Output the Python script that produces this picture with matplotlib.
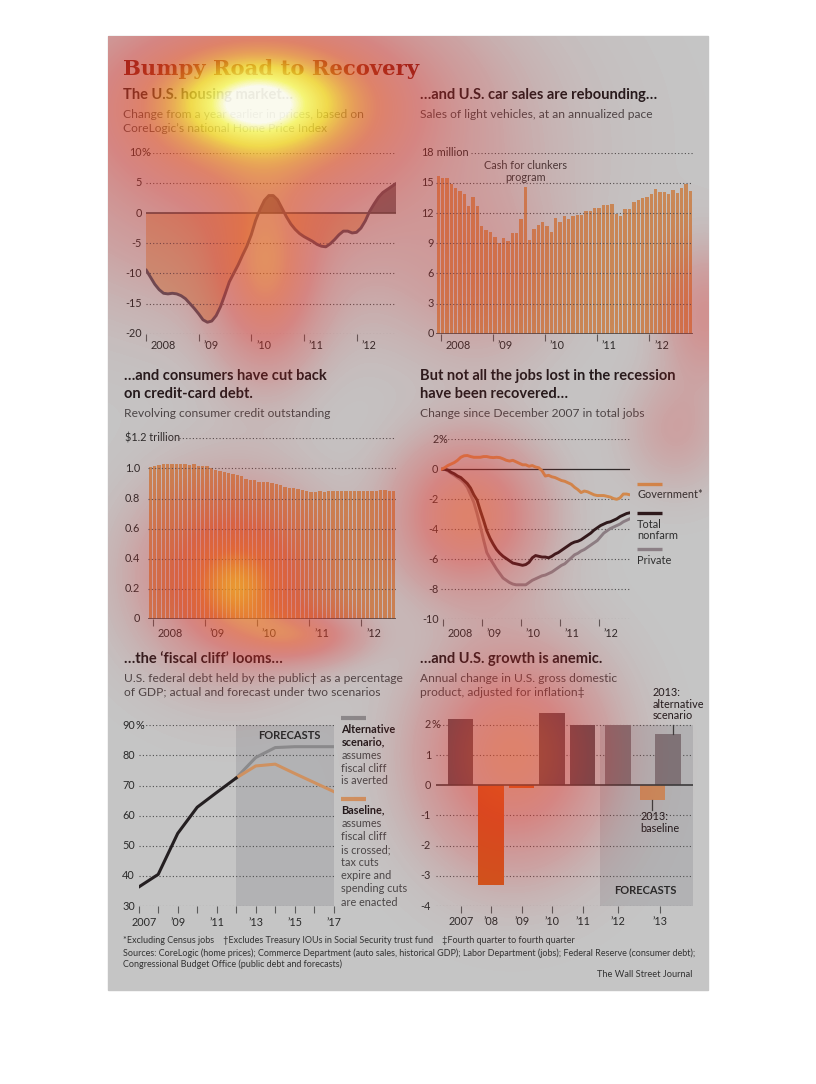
import numpy as np
import matplotlib
matplotlib.use('Agg')
import matplotlib.pyplot as plt
from matplotlib.transforms import blended_transform_factory as btf, ScaledTranslation
from matplotlib.colors import LinearSegmentedColormap
from matplotlib.patches import Rectangle
from matplotlib.lines import Line2D

plt.rcParams['font.family'] = ['Lato', 'DejaVu Sans']

# ---------------- data ----------------
# home prices, % change from a year earlier, monthly Jan 2008 - Oct 2012
housing = [-9.4, -10.6, -11.8, -12.7, -13.3, -13.4, -13.3, -13.4, -13.7, -14.2,
           -15.0, -15.8, -16.7, -17.7, -18.1, -17.9, -17.0, -15.5, -13.5, -11.4,
           -10.0, -8.6, -7.0, -5.5, -3.6, -1.2, 0.6, 2.1, 2.9, 2.9,
           2.2, 0.8, -0.6, -1.8, -2.7, -3.4, -3.9, -4.3, -4.7, -5.2,
           -5.5, -5.6, -5.1, -4.4, -3.6, -3.0, -3.0, -3.3, -3.2, -2.5,
           -1.3, 0.3, 1.5, 2.6, 3.4, 3.9, 4.4, 4.9]

# light vehicle sales, million annualized, monthly Dec 2007 - Oct 2012
car_sales = [15.7, 15.5, 15.5, 14.9, 14.5, 14.2, 13.9, 12.7, 13.6, 12.7,
             10.7, 10.3, 10.1, 9.6, 9.0, 9.5, 9.2, 10.0, 10.0, 11.4,
             14.6, 9.3, 10.4, 10.8, 11.1, 10.7, 10.1, 11.5, 11.1, 11.7,
             11.4, 11.7, 11.8, 11.8, 12.2, 12.2, 12.5, 12.5, 12.8, 12.8,
             12.9, 11.9, 11.7, 12.4, 12.4, 13.1, 13.3, 13.5, 13.6, 13.9,
             14.4, 14.1, 14.1, 13.9, 14.3, 14.0, 14.5, 14.9, 14.2]

# revolving consumer credit, $ trillion, monthly Dec 2007 - Aug 2012
credit = [1.007, 1.013, 1.022, 1.027, 1.027, 1.029, 1.029, 1.029, 1.027, 1.022,
          1.027, 1.018, 1.013, 1.013, 1.000, 0.987, 0.980, 0.973, 0.969, 0.962,
          0.956, 0.947, 0.933, 0.924, 0.920, 0.913, 0.907, 0.907, 0.902, 0.896,
          0.887, 0.878, 0.871, 0.869, 0.860, 0.858, 0.851, 0.844, 0.844, 0.849,
          0.844, 0.849, 0.849, 0.847, 0.847, 0.847, 0.847, 0.851, 0.851, 0.851,
          0.849, 0.851, 0.849, 0.856, 0.856, 0.851, 0.853]

# jobs, % change since Dec 2007, monthly Dec 2007 - Oct 2012
jobs_gov = [0.0, 0.1, 0.25, 0.35, 0.45, 0.6, 0.8, 0.9, 0.92, 0.85,
            0.8, 0.8, 0.8, 0.85, 0.85, 0.8, 0.78, 0.8, 0.78, 0.7,
            0.6, 0.55, 0.6, 0.5, 0.4, 0.3, 0.3, 0.2, 0.25, 0.15,
            0.1, -0.1, -0.45, -0.4, -0.5, -0.55, -0.65, -0.75, -0.8, -0.9,
            -1.0, -1.2, -1.35, -1.55, -1.45, -1.5, -1.6, -1.7, -1.75, -1.75,
            -1.75, -1.8, -1.85, -1.95, -2.0, -1.9, -1.65, -1.65, -1.7]
jobs_total = [0.0, 0.0, -0.05, -0.2, -0.3, -0.45, -0.55, -0.75, -0.95, -1.25,
              -1.7, -2.05, -2.75, -3.4, -4.1, -4.6, -5.0, -5.35, -5.6, -5.8,
              -5.95, -6.1, -6.25, -6.3, -6.35, -6.4, -6.35, -6.2, -5.9, -5.75,
              -5.8, -5.85, -5.85, -5.9, -5.8, -5.65, -5.55, -5.4, -5.25, -5.1,
              -4.95, -4.85, -4.8, -4.7, -4.55, -4.4, -4.25, -4.05, -3.9, -3.75,
              -3.65, -3.55, -3.5, -3.4, -3.3, -3.15, -3.05, -2.95, -2.9]
jobs_private = [0.0, 0.0, -0.1, -0.25, -0.4, -0.55, -0.7, -0.9, -1.2, -1.7,
                -2.2, -2.95, -3.8, -4.7, -5.55, -5.95, -6.3, -6.65, -6.95, -7.25,
                -7.4, -7.55, -7.65, -7.7, -7.7, -7.7, -7.7, -7.55, -7.4, -7.3,
                -7.2, -7.1, -7.05, -6.95, -6.85, -6.7, -6.55, -6.4, -6.3, -6.1,
                -5.9, -5.7, -5.6, -5.45, -5.35, -5.2, -5.05, -4.9, -4.75, -4.5,
                -4.25, -4.1, -3.95, -3.85, -3.75, -3.65, -3.5, -3.4, -3.3]

# federal debt held by the public, % of GDP
debt_years = [2007, 2008, 2009, 2010, 2011, 2012]
debt_actual = [36.3, 40.5, 54.1, 62.8, 67.7, 72.5]
fc_years = [2012, 2013, 2014, 2015, 2016, 2017]
debt_alternative = [72.5, 79.3, 82.6, 82.9, 82.9, 82.9]
debt_baseline = [72.5, 76.5, 77.1, 74.0, 71.0, 68.0]

# GDP, annual % change (Q4 to Q4)
gdp_labels = ['2007', '\u201908', '\u201909', '\u201910', '\u201911', '\u201912', '\u201913']
gdp_actual = [2.2, -3.3, -0.1, 2.4, 2.0]
gdp_2012 = 2.0
gdp_2013_baseline = -0.5
gdp_2013_alternative = 1.7

year_labels = ['2008', '\u201909', '\u201910', '\u201911', '\u201912']

# ---------------- style ----------------
BG = '#c5c5c5'
TXT = '#231b1d'
SUB = '#4a4647'
TICKC = '#2b2b2b'
GRIDC = '#505050'
ORANGE = '#c98a58'
W, H = 816, 1084

fig = plt.figure(figsize=(W / 100, H / 100), dpi=100, facecolor='white')
fig.patches.append(Rectangle((108 / W, 1 - 990 / H), 600 / W, 954 / H,
                             transform=fig.transFigure, color=BG, zorder=-1))


def add_ax(l, t, r, b):
    ax = fig.add_axes([l / W, 1 - b / H, (r - l) / W, (b - t) / H])
    ax.set_facecolor('none')
    for s in ax.spines.values():
        s.set_visible(False)
    ax.tick_params(axis='y', left=False, labelleft=False)
    ax.tick_params(axis='x', length=5, width=0.8, color='#5a5a5a', labelbottom=False)
    return ax


def ftext(x, y, s, **kw):
    kw.setdefault('color', TXT)
    return fig.text(x / W, 1 - y / H, s, **kw)


def grid(ax, vals, x0=0.0):
    for v in vals:
        ax.axhline(v, xmin=x0 if v == vals[0] else 0.0, color=GRIDC, lw=0.8,
                   ls=(0, (1, 2)), zorder=2)


def ylabels(ax, vals, texts, xr, suffix='', size=7.8):
    tr = btf(fig.transFigure, ax.transData)
    for v, t in zip(vals, texts):
        ax.text(xr / W, v, t, transform=tr, ha='right', va='center',
                fontsize=size, color=TICKC)
    if suffix:
        ax.text(xr / W, vals[0], suffix, transform=tr, ha='left', va='center',
                fontsize=size, color=TICKC)


def xlabels(ax, vals, texts, ypx, dx=5, ha='left', size=7.8):
    tr = btf(ax.transData, fig.transFigure) + ScaledTranslation(dx / 100, 0, fig.dpi_scale_trans)
    for v, t in zip(vals, texts):
        ax.text(v, 1 - ypx / H, t, transform=tr, ha=ha, va='baseline',
                fontsize=size, color=TICKC)


def title(x, y, lines, sub, sub_y):
    for i, ln in enumerate(lines):
        ftext(x, y + i * 17.7, ln, fontsize=10.5, weight='bold', va='baseline')
    for i, ln in enumerate(sub):
        ftext(x, sub_y + i * 14.2, ln, fontsize=8.65, color=SUB, va='baseline')


def fline(x1, x2, y, color, lw=2.4):
    fig.add_artist(Line2D([x1 / W, x2 / W], [1 - y / H, 1 - y / H],
                          transform=fig.transFigure, color=color, lw=lw,
                          solid_capstyle='butt'))


# ---------------- headline ----------------
ftext(123, 75, 'Bumpy Road to Recovery', family='DejaVu Serif', weight='bold',
      fontsize=15.2, color='#7a1e12', va='baseline')

# ---------------- 1: housing ----------------
title(123, 98.5, ['The U.S. housing market\u2026'],
      ['Change from a year earlier in prices, based on',
       'CoreLogic\u2019s national Home Price Index'], 118)
ax1 = add_ax(146, 152.7, 396, 333.7)
hx = np.arange(len(housing))
hv = np.array(housing)
ax1.set_xlim(0, len(housing) - 1)
ax1.set_ylim(-20, 10)
ax1.fill_between(hx, hv, 0, where=hv <= 0, interpolate=True, color='#c6a283', lw=0, zorder=1)
ax1.fill_between(hx, hv, 0, where=hv >= 0, interpolate=True, color='#6d676b', lw=0, zorder=1)
grid(ax1, [10, 5, -5, -10, -15, -20])
ax1.axhline(0, color='#4a4a4a', lw=1.2, zorder=3)
ax1.plot(hx, hv, color='#57505a', lw=2.1, zorder=4, solid_capstyle='round')
h_ticks = np.arange(0, len(housing), 12)
ax1.set_xticks(h_ticks)
xlabels(ax1, h_ticks, year_labels, 349.3)
ylabels(ax1, [10, 5, 0, -5, -10, -15, -20], ['10', '5', '0', '-5', '-10', '-15', '-20'], 141.5, '%')

# ---------------- 2: car sales ----------------
title(420, 98.8, ['\u2026and U.S. car sales are rebounding\u2026'],
      ['Sales of light vehicles, at an annualized pace'], 117.7)
ax2 = add_ax(436.2, 152.7, 692.5, 333.7)
cx = np.arange(len(car_sales))
ax2.set_xlim(-0.5, len(car_sales) - 0.5)
ax2.set_ylim(0, 18)
ax2.bar(cx, car_sales, width=0.77, color=ORANGE, lw=0, zorder=1)
grid(ax2, [18, 15, 12, 9, 6, 3], x0=0.135)
ax2.axhline(0, color='#4a4a4a', lw=1.2, zorder=3)
c_ticks = np.arange(1, len(car_sales), 12) - 0.5
ax2.set_xticks(c_ticks)
xlabels(ax2, c_ticks, year_labels, 348.7)
ylabels(ax2, [18, 15, 12, 9, 6, 3, 0], ['18', '15', '12', '9', '6', '3', '0'], 433.5, ' million')
spike = 12 + int(np.argmax(car_sales[12:24]))
ax2.text(spike, 16.15, 'Cash for clunkers\nprogram', ha='center', va='center',
         fontsize=7.8, color='#3a3a3a', linespacing=1.1, zorder=5)

# ---------------- 3: credit ----------------
title(124, 380, ['\u2026and consumers have cut back', 'on credit-card debt.'],
      ['Revolving consumer credit outstanding'], 417)
ax3 = add_ax(148.2, 438.3, 395.9, 619)
kx = np.arange(len(credit))
ax3.set_xlim(-0.5, len(credit) - 0.5)
ax3.set_ylim(0, 1.2)
ax3.bar(kx, credit, width=0.77, color=ORANGE, lw=0, zorder=1)
grid(ax3, [1.2, 1.0, 0.8, 0.6, 0.4, 0.2], x0=0.125)
ax3.axhline(0, color='#4a4a4a', lw=1.2, zorder=3)
k_ticks = np.arange(1, len(credit), 12) - 0.5
ax3.set_xticks(k_ticks)
xlabels(ax3, k_ticks, year_labels, 637)
ylabels(ax3, [1.0, 0.8, 0.6, 0.4, 0.2, 0], ['1.0', '0.8', '0.6', '0.4', '0.2', '0'], 140)
ax3.text(125 / W, 1.2, '$1.2 trillion', transform=btf(fig.transFigure, ax3.transData),
         ha='left', va='center', fontsize=7.8, color=TICKC)

# ---------------- 4: jobs ----------------
title(420, 380, ['But not all the jobs lost in the recession', 'have been recovered\u2026'],
      ['Change since December 2007 in total jobs'], 417)
ax4 = add_ax(441.3, 439.3, 629.8, 619.3)
jx = np.arange(len(jobs_total))
ax4.set_xlim(0, len(jobs_total) - 1)
ax4.set_ylim(-10, 2)
grid(ax4, [2, -2, -4, -6, -8, -10])
ax4.axhline(0, xmin=0.03, color='#2a2a2a', lw=0.9, zorder=2)
ax4.plot(jx, jobs_private, color='#8b7f85', lw=2.1, zorder=3)
ax4.plot(jx, jobs_total, color='#2c191c', lw=2.1, zorder=4)
ax4.plot(jx, jobs_gov, color='#d28b4d', lw=2.1, zorder=5)
j_ticks = np.arange(1, len(jobs_total), 12) - 0.5
ax4.set_xticks(j_ticks)
xlabels(ax4, j_ticks, year_labels, 636.7)
ylabels(ax4, [2, 0, -2, -4, -6, -8, -10], ['2', '0', '-2', '-4', '-6', '-8', '-10'], 438.5, '%')
fline(637.3, 662, 483.7, '#d28b4d')
ftext(637.3, 494.3, 'Government*', fontsize=7.9, color='#2f2f2f', va='center')
fline(637.3, 662, 512.7, '#2c191c')
ftext(637.3, 524.3, 'Total', fontsize=7.9, color='#2f2f2f', va='center')
ftext(637.3, 535.5, 'nonfarm', fontsize=7.9, color='#2f2f2f', va='center')
fline(637.3, 662, 549.3, '#8b7f85')
ftext(637.3, 560.3, 'Private', fontsize=7.9, color='#2f2f2f', va='center')

# ---------------- 5: fiscal cliff ----------------
title(124, 662.7, ['\u2026the \u2018fiscal cliff\u2019 looms\u2026'],
      ['U.S. federal debt held by the public\u2020 as a percentage',
       'of GDP; actual and forecast under two scenarios'], 681.7)
ax5 = add_ax(138.7, 725.3, 333.7, 906)
ax5.set_xlim(debt_years[0], fc_years[-1])
ax5.set_ylim(30, 90)
ax5.axvspan(fc_years[0], fc_years[-1], color='#b2b2b4', lw=0, zorder=0)
grid(ax5, [90, 80, 70, 60, 50, 40, 30])
ax5.plot(fc_years, debt_alternative, color='#8a8a8c', lw=2.2, zorder=3)
ax5.plot(fc_years, debt_baseline, color='#cf9160', lw=2.2, zorder=3)
ax5.plot(debt_years, debt_actual, color='#241f21', lw=2.2, zorder=4)
ax5.set_xticks(range(debt_years[0], fc_years[-1] + 1))
odd = list(range(debt_years[0], fc_years[-1] + 1, 2))
xlabels(ax5, odd[:1], ['2007'], 926, dx=5, ha='center')
xlabels(ax5, odd[1:], ['\u2019' + str(y)[2:] for y in odd[1:]], 926, dx=0, ha='center')
ylabels(ax5, [90, 80, 70, 60, 50, 40, 30], ['90', '80', '70', '60', '50', '40', '30'], 135, '%')
ax5.text(2014.75, 1 - 735.3 / H, 'FORECASTS', transform=btf(ax5.transData, fig.transFigure),
         ha='center', va='center', fontsize=8, color='#2a2a2a', weight='bold')
fline(341.3, 366.3, 718.3, '#8a8a8c', lw=3)
for i, (t, w) in enumerate([('Alternative', 'bold'), ('scenario,', 'bold'), ('assumes', 'normal'),
                            ('fiscal cliff', 'normal'), ('is averted', 'normal')]):
    ftext(341.3, 729.3 + i * 12.9, t, fontsize=7.8, weight=w, va='center',
          color=TXT if w == 'bold' else SUB)
fline(341.3, 366.3, 798.7, '#cf9160', lw=3)
for i, (t, w) in enumerate([('Baseline,', 'bold'), ('assumes', 'normal'), ('fiscal cliff', 'normal'),
                            ('is crossed;', 'normal'), ('tax cuts', 'normal'), ('expire and', 'normal'),
                            ('spending cuts', 'normal'), ('are enacted', 'normal')]):
    ftext(341.3, 810 + i * 13.15, t, fontsize=7.8, weight=w, va='center',
          color=TXT if w == 'bold' else SUB)

# ---------------- 6: GDP ----------------
title(420, 662.7, ['\u2026and U.S. growth is anemic.'],
      ['Annual change in U.S. gross domestic', 'product, adjusted for inflation\u2021'], 681.7)
ax6 = add_ax(436, 709.9, 693, 906)
ax6.set_xlim(-0.81, 7.62)
ax6.set_ylim(-4, 2.5)
n_act = len(gdp_actual)
pos = np.arange(len(gdp_labels)) + np.where(np.arange(len(gdp_labels)) >= n_act, 0.15, 0.0)
pos[-1] += 0.4
shade_x = (pos[n_act - 1] + pos[n_act]) / 2
ax6.add_patch(Rectangle((shade_x, -4), 7.62 - shade_x, 6, color='#b2b2b4', lw=0, zorder=0))
grid(ax6, [2, 1, -1, -2, -3, -4])
act_colors = ['#5a5055' if v >= 0 else '#cf5a1c' for v in gdp_actual]
ax6.bar(pos[:n_act], gdp_actual, width=0.84, color=act_colors, lw=0, zorder=3)
ax6.bar(pos[n_act], gdp_2012, width=0.84, color='#7f7175', lw=0, zorder=3)
ax6.bar(pos[-1] - 0.26, gdp_2013_baseline, width=0.84, color='#c98a5c', lw=0, zorder=3)
ax6.bar(pos[-1] + 0.25, gdp_2013_alternative, width=0.84, color='#7e7478', lw=0, zorder=4)
ax6.axhline(0, color='#3c3c3c', lw=1.2, zorder=5)
ax6.set_xticks(pos)
xlabels(ax6, pos, gdp_labels, 925.3, dx=0, ha='center')
ylabels(ax6, [2, 1, 0, -1, -2, -3, -4], ['2', '1', '0', '-1', '-2', '-3', '-4'], 431, '%')
ax6.text(6.0 + 0.06, 1 - 891 / H, 'FORECASTS', transform=btf(ax6.transData, fig.transFigure),
         ha='center', va='center', fontsize=8, color='#2a2a2a', weight='bold')
alt_x = pos[-1] + 0.25
base_x = pos[-1] - 0.26
ax6.plot([alt_x + 0.15, alt_x + 0.15], [gdp_2013_alternative, gdp_2013_alternative + 0.3],
         color='#3c3c3c', lw=0.9, zorder=5)
ax6.text(alt_x - 0.5, 2.69, '2013:\nalternative\nscenario', ha='left', va='center',
         fontsize=7.8, color=TXT, linespacing=1.05)
ax6.plot([base_x, base_x], [gdp_2013_baseline, gdp_2013_baseline - 0.32],
         color='#3c3c3c', lw=0.9, zorder=5)
ax6.text(base_x - 0.4, -1.23, '2013:\nbaseline', ha='left', va='center',
         fontsize=7.8, color=TXT, linespacing=1.15)

# ---------------- footnotes ----------------
ftext(123.5, 940.5, '*Excluding Census jobs    \u2020Excludes Treasury IOUs in Social Security trust fund    '
      '\u2021Fourth quarter to fourth quarter', fontsize=6.45, color='#333333', va='center')
ftext(123.5, 953, 'Sources: CoreLogic (home prices); Commerce Department (auto sales, historical GDP); '
      'Labor Department (jobs); Federal Reserve (consumer debt);', fontsize=6.45, color='#333333', va='center')
ftext(123.5, 964.5, 'Congressional Budget Office (public debt and forecasts)', fontsize=6.45,
      color='#333333', va='center')
ftext(692, 974.5, 'The Wall Street Journal', fontsize=6.7, color='#333333', va='center', ha='right')

# ---------------- eye-tracking heat overlay ----------------
yy, xx = np.mgrid[0:H, 0:W]
blobs = [  # x, y, sx, sy, strength
    (255, 102, 55, 30, 0.30),
    (262, 98, 95, 52, 0.45),
    (260, 140, 150, 100, 0.35),
    (265, 280, 35, 60, 0.40),
    (238, 590, 35, 35, 0.30),
    (230, 575, 62, 62, 0.36),
    (468, 515, 48, 50, 0.46),
    (512, 755, 60, 70, 0.46),
    (300, 636, 40, 18, 0.35),
    (705, 315, 30, 45, 0.22),
    (480, 280, 55, 60, 0.12),
    (675, 430, 35, 40, 0.12),
]
heat = np.zeros((H, W))
for bx, by, sx, sy, a in blobs:
    heat += a * np.exp(-((xx - bx) ** 2 / (2 * sx ** 2) + (yy - by) ** 2 / (2 * sy ** 2)))
heat = np.clip(heat, 0, 1)
heat[(xx < 108) | (xx > 708) | (yy < 36) | (yy > 990)] = 0
heat_cmap = LinearSegmentedColormap.from_list('heat', [
    (0.0, (0.85, 0.10, 0.10, 0.0)),
    (0.12, (0.90, 0.15, 0.15, 0.22)),
    (0.30, (0.93, 0.18, 0.15, 0.42)),
    (0.48, (0.96, 0.30, 0.12, 0.55)),
    (0.62, (0.98, 0.55, 0.12, 0.65)),
    (0.78, (1.00, 0.88, 0.15, 0.76)),
    (0.92, (1.00, 1.00, 0.40, 0.84)),
    (1.0, (1.00, 1.00, 0.95, 0.92)),
])
hax = fig.add_axes([0, 0, 1, 1], zorder=20)
hax.imshow(heat_cmap(heat), extent=(0, W, H, 0), aspect='auto', interpolation='bilinear')
hax.set_xlim(0, W)
hax.set_ylim(H, 0)
hax.axis('off')

fig.savefig('out.png', dpi=100, facecolor='white')
